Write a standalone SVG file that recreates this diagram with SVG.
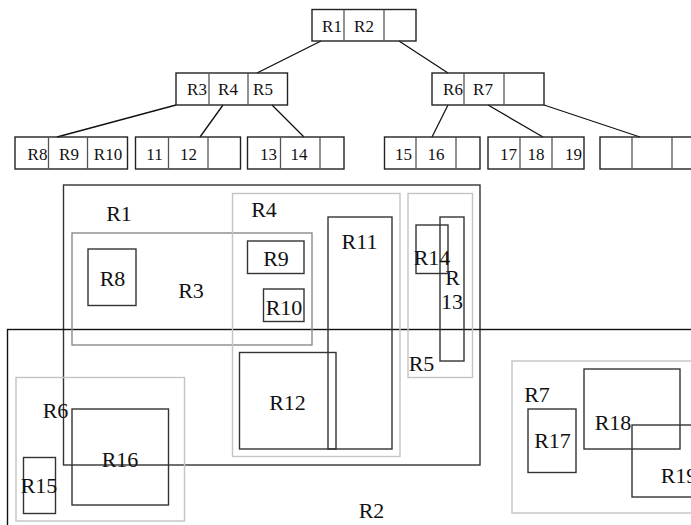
<svg xmlns="http://www.w3.org/2000/svg" width="691" height="525" viewBox="0 0 691 525">
<style>
  .bg{fill:#fff}
  .cell{fill:none;stroke:#222;stroke-width:1.4}
  .div{stroke:#555;stroke-width:1.3}
  .edge{stroke:#111;stroke-width:1.3;fill:none}
  .t{font-family:"Liberation Serif","Times New Roman",serif;font-size:17px;fill:#111;text-anchor:middle}
  .L{font-family:"Liberation Serif","Times New Roman",serif;font-size:22px;fill:#111;text-anchor:middle}
  .dk{fill:none;stroke:#333;stroke-width:1.4}
  .bk{fill:none;stroke:#111;stroke-width:1.4}
  .md{fill:none;stroke:#8a8a8a;stroke-width:1.4}
  .lt{fill:none;stroke:#c4c4c4;stroke-width:1.4}
</style>
<rect class="bg" x="0" y="0" width="691" height="525"/>

<g id="connectors">
  <line class="edge" x1="321" y1="41" x2="257" y2="73"/>
  <line class="edge" x1="399" y1="41" x2="448" y2="73"/>
  <line class="edge" x1="176" y1="105" x2="57" y2="137"/>
  <line class="edge" x1="223" y1="105" x2="200" y2="137"/>
  <line class="edge" x1="272" y1="105" x2="304" y2="137"/>
  <line class="edge" x1="448" y1="105" x2="432" y2="137"/>
  <line class="edge" x1="488" y1="105" x2="543" y2="137"/>
  <line class="edge" x1="544" y1="105" x2="640" y2="137"/>
</g>

<g id="root">
  <rect class="cell" x="312" y="9.5" width="104" height="31.5"/>
  <line class="div" x1="344" y1="9.5" x2="344" y2="41"/>
  <line class="div" x1="384" y1="9.5" x2="384" y2="41"/>
  <text class="t" x="332" y="32">R1</text>
  <text class="t" x="364" y="32">R2</text>
</g>
<g id="node-r3r4r5">
  <rect class="cell" x="176" y="73" width="111.5" height="32"/>
  <line class="div" x1="209" y1="73" x2="209" y2="105"/>
  <line class="div" x1="248" y1="73" x2="248" y2="105"/>
  <text class="t" x="197" y="95">R3</text>
  <text class="t" x="228" y="95">R4</text>
  <text class="t" x="263" y="95">R5</text>
</g>
<g id="node-r6r7">
  <rect class="cell" x="432" y="73" width="112" height="32"/>
  <line class="div" x1="464" y1="73" x2="464" y2="105"/>
  <line class="div" x1="504" y1="73" x2="504" y2="105"/>
  <text class="t" x="453" y="95">R6</text>
  <text class="t" x="483" y="95">R7</text>
</g>
<g id="leaf-r8r9r10">
  <rect class="cell" x="15" y="137" width="112.5" height="32"/>
  <line class="div" x1="48.5" y1="137" x2="48.5" y2="169"/>
  <line class="div" x1="87.5" y1="137" x2="87.5" y2="169"/>
  <text class="t" x="37.5" y="159.5">R8</text>
  <text class="t" x="69" y="159.5">R9</text>
  <text class="t" x="108" y="159.5">R10</text>
</g>
<g id="leaf-11-12">
  <rect class="cell" x="135.5" y="137" width="105" height="32"/>
  <line class="div" x1="168.5" y1="137" x2="168.5" y2="169"/>
  <line class="div" x1="208" y1="137" x2="208" y2="169"/>
  <text class="t" x="154.5" y="159.5">11</text>
  <text class="t" x="188.5" y="159.5">12</text>
</g>
<g id="leaf-13-14">
  <rect class="cell" x="247.5" y="137" width="96.5" height="32"/>
  <line class="div" x1="280.5" y1="137" x2="280.5" y2="169"/>
  <line class="div" x1="320" y1="137" x2="320" y2="169"/>
  <text class="t" x="268.5" y="159.5">13</text>
  <text class="t" x="299" y="159.5">14</text>
</g>
<g id="leaf-15-16">
  <rect class="cell" x="384.5" y="137" width="95.5" height="32"/>
  <line class="div" x1="416" y1="137" x2="416" y2="169"/>
  <line class="div" x1="456" y1="137" x2="456" y2="169"/>
  <text class="t" x="403.5" y="159.5">15</text>
  <text class="t" x="436" y="159.5">16</text>
</g>
<g id="leaf-17-18-19">
  <rect class="cell" x="488" y="137" width="96" height="32"/>
  <line class="div" x1="520" y1="137" x2="520" y2="169"/>
  <line class="div" x1="552" y1="137" x2="552" y2="169"/>
  <text class="t" x="508.5" y="159.5">17</text>
  <text class="t" x="536" y="159.5">18</text>
  <text class="t" x="573.5" y="159.5">19</text>
</g>
<g id="leaf-empty">
  <rect class="cell" x="600" y="137" width="104" height="32"/>
  <line class="div" x1="632" y1="137" x2="632" y2="169"/>
  <line class="div" x1="672" y1="137" x2="672" y2="169"/>
</g>

<g id="R1"><rect class="dk" x="63.5" y="185" width="416.5" height="280"/><text class="L" x="119" y="221">R1</text></g>
<g id="R2"><rect class="bk" x="7.5" y="329.5" width="700" height="210"/><text class="L" x="371.5" y="518">R2</text></g>
<g id="R3"><rect class="md" x="72" y="233" width="240" height="112"/><text class="L" x="191" y="298">R3</text></g>
<g id="R4"><rect class="lt" x="232.5" y="193.5" width="167.5" height="263"/><text class="L" x="264" y="217">R4</text></g>
<g id="R5"><rect class="lt" x="408" y="193.5" width="64.5" height="184"/><text class="L" x="421.5" y="371">R5</text></g>
<g id="R6"><rect class="lt" x="16" y="377.5" width="168.5" height="143.5"/><text class="L" x="55.5" y="418">R6</text></g>
<g id="R7"><rect class="lt" x="512" y="361" width="200" height="152"/><text class="L" x="537" y="402">R7</text></g>
<g id="R8"><rect class="dk" x="88" y="249" width="48" height="56.5"/><text class="L" x="112.5" y="286">R8</text></g>
<g id="R9"><rect class="dk" x="247.5" y="241" width="56.5" height="32.5"/><text class="L" x="276" y="266">R9</text></g>
<g id="R10"><rect class="dk" x="263.5" y="289" width="40.5" height="32.5"/><text class="L" x="284" y="315">R10</text></g>
<g id="R11"><rect class="dk" x="328" y="217" width="64" height="232"/><text class="L" x="359.5" y="249">R11</text></g>
<g id="R12"><rect class="dk" x="239.5" y="352.5" width="96.5" height="96.5"/><text class="L" x="287.5" y="410">R12</text></g>
<g id="R13"><rect class="dk" x="440" y="217" width="24" height="144"/><text class="L" x="452.5" y="285">R</text><text class="L" x="452" y="309">13</text></g>
<g id="R14"><rect class="dk" x="416" y="225" width="32" height="48.5"/><text class="L" x="432" y="265">R14</text></g>
<g id="R15"><rect class="dk" x="23.5" y="457.5" width="32" height="56"/><text class="L" x="39" y="493">R15</text></g>
<g id="R16"><rect class="dk" x="72" y="409" width="96.5" height="96"/><text class="L" x="120" y="467">R16</text></g>
<g id="R17"><rect class="dk" x="528" y="409" width="48" height="63.5"/><text class="L" x="552.5" y="448">R17</text></g>
<g id="R18"><rect class="dk" x="584" y="369" width="96" height="80"/><text class="L" x="613" y="430">R18</text></g>
<g id="R19"><rect class="dk" x="632" y="425" width="80" height="72"/><text class="L" x="679" y="483">R19</text></g>
</svg>
